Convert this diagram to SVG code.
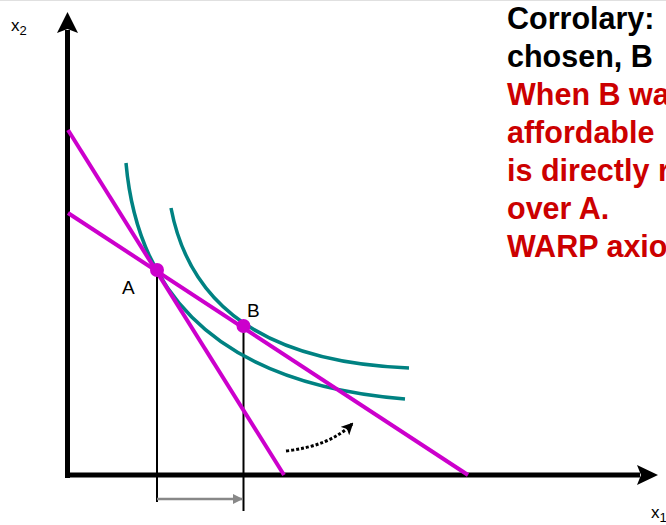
<svg xmlns="http://www.w3.org/2000/svg" width="666" height="525" viewBox="0 0 666 525">
<defs>
<style>
.lbl{font-family:"Liberation Sans",Arial,sans-serif;fill:#000}
.hd{font-family:"Liberation Sans",Arial,sans-serif;font-weight:bold;font-size:30.5px}
.bud{fill:none;stroke:#CC00CC;stroke-width:4}
.ic{fill:none;stroke:#008282;stroke-width:3.5}
.drop{stroke:#000;stroke-width:2}
</style>
<marker id="gh" markerWidth="10" markerHeight="10" refX="9" refY="5" orient="auto" markerUnits="userSpaceOnUse"><path d="M0,0 L10,5 L0,10 Z" fill="#888"/></marker>
<marker id="bh" markerWidth="12" markerHeight="12" refX="10" refY="6" orient="auto" markerUnits="userSpaceOnUse"><path d="M0,0 L12,6 L0,12 L3,6 Z" fill="#000"/></marker>
</defs>
<rect width="666" height="525" fill="#fff"/>
<line x1="0" y1="0.5" x2="666" y2="0.5" stroke="#e0e0e0" stroke-width="1"/>
<g id="axes">
<line x1="67.5" y1="478" x2="67.5" y2="30" stroke="#000" stroke-width="5"/>
<path d="M67.5,12 L78,33 L67.5,29 L57,33 Z" fill="#000"/>
<line x1="65" y1="475" x2="640" y2="475" stroke="#000" stroke-width="5"/>
<path d="M658,475 L637,485 L641,475 L637,465 Z" fill="#000"/>
<text class="lbl" x="11" y="31" font-size="17">x<tspan font-size="13" dy="4">2</tspan></text>
<text class="lbl" x="651" y="518" font-size="17">x<tspan font-size="13" dy="4">1</tspan></text>
</g>
<g id="connectors">
<line class="drop" x1="157" y1="270" x2="157" y2="502"/>
<line class="drop" x1="243.5" y1="326" x2="243.5" y2="511"/>
<line x1="157" y1="499" x2="242" y2="499" stroke="#888" stroke-width="2.5" marker-end="url(#gh)"/>
<path d="M286,451 Q330,446 352,424" fill="none" stroke="#000" stroke-width="3" stroke-dasharray="3,2" marker-end="url(#bh)"/>
</g>
<g id="indifference-curves">
<path class="ic" d="M126,163 Q145,378 405,399"/>
<path class="ic" d="M171,208 Q200,360 409,368"/>
</g>
<g id="budget-lines">
<line class="bud" x1="68" y1="130" x2="284" y2="475"/>
<line class="bud" x1="68" y1="213" x2="468" y2="475"/>
</g>
<g id="node-A">
<circle cx="157" cy="270" r="7" fill="#CC00CC"/>
<text class="lbl" x="122" y="294" font-size="19">A</text>
</g>
<g id="node-B">
<circle cx="243.5" cy="326" r="7" fill="#CC00CC"/>
<text class="lbl" x="247" y="317" font-size="19">B</text>
</g>
<g id="caption">
<text class="hd" x="507" y="29" fill="#000">Corrolary:</text>
<text class="hd" x="507" y="67" fill="#000">chosen, B</text>
<text class="hd" x="507" y="105" fill="#CC0000">When B wa</text>
<text class="hd" x="507" y="143" fill="#CC0000">affordable</text>
<text class="hd" x="507" y="181" fill="#CC0000">is directly r</text>
<text class="hd" x="507" y="219" fill="#CC0000">over A.</text>
<text class="hd" x="507" y="257" fill="#CC0000">WARP axio</text>
</g>
</svg>
